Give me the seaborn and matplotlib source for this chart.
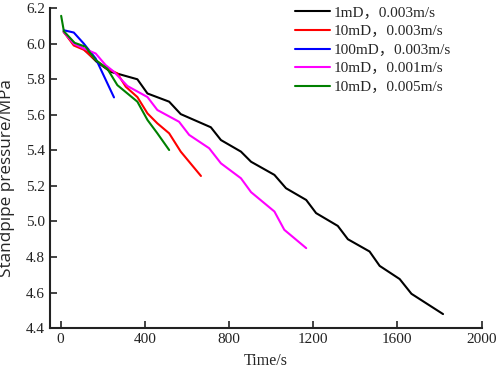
import numpy as np
import pandas as pd
import matplotlib
matplotlib.use("Agg")
import matplotlib.pyplot as plt
import seaborn as sns

labels = ["1mD，0.003m/s", "10mD，0.003m/s", "100mD，0.003m/s", "10mD，0.001m/s", "10mD，0.005m/s"]
colors = ["#000000", "#ff0000", "#0000ff", "#ff00ff", "#008000"]

t_1mD_3 = [15, 63, 111, 170, 238, 278, 365, 413, 516, 571, 714, 762, 857, 905, 1016, 1071, 1167, 1214, 1317, 1365, 1468, 1516, 1611, 1667, 1817]
p_1mD_3 = [6.067, 6.0, 5.97, 5.90, 5.842, 5.829, 5.80, 5.72, 5.674, 5.604, 5.53, 5.458, 5.393, 5.336, 5.262, 5.187, 5.121, 5.047, 4.975, 4.90, 4.831, 4.75, 4.676, 4.593, 4.479]

t_10mD_3 = [15, 63, 111, 175, 222, 270, 310, 365, 413, 460, 516, 571, 667]
p_10mD_3 = [6.067, 5.99, 5.966, 5.90, 5.86, 5.833, 5.758, 5.70, 5.608, 5.552, 5.496, 5.393, 5.256]

t_100mD_3 = [15, 63, 111, 167, 254]
p_100mD_3 = [6.076, 6.063, 6.0, 5.917, 5.698]

t_10mD_1 = [15, 63, 111, 167, 214, 254, 318, 413, 460, 563, 611, 706, 762, 857, 905, 1016, 1063, 1167]
p_10mD_1 = [6.067, 6.0, 5.973, 5.945, 5.88, 5.842, 5.762, 5.70, 5.627, 5.561, 5.487, 5.412, 5.327, 5.243, 5.165, 5.056, 4.953, 4.85]

t_10mD_5 = [3, 16, 67, 119, 167, 222, 270, 318, 365, 413, 460, 516]
p_10mD_5 = [6.157, 6.07, 6.005, 5.983, 5.908, 5.86, 5.767, 5.72, 5.674, 5.571, 5.496, 5.402]

series = [(t_1mD_3, p_1mD_3), (t_10mD_3, p_10mD_3), (t_100mD_3, p_100mD_3),
          (t_10mD_1, p_10mD_1), (t_10mD_5, p_10mD_5)]

frames = []
for lab, (t, p) in zip(labels, series):
    frames.append(pd.DataFrame({"Time": t, "Pressure": p, "Case": lab}))
df = pd.concat(frames, ignore_index=True)

sns.set_style("ticks")
plt.rcParams['font.family'] = ['Liberation Serif', 'Noto Sans CJK SC', 'DejaVu Sans']

fig = plt.figure(figsize=(4.98, 3.72), dpi=100)
ax = fig.add_axes([0.1004, 0.118, 0.967 - 0.1004, 0.978 - 0.118])

sns.lineplot(data=df, x="Time", y="Pressure", hue="Case", hue_order=labels,
             palette=colors, sort=False, estimator=None, linewidth=1.5, ax=ax)

ax.set_xlim(-50, 2000)
ax.set_ylim(4.4, 6.2)
ax.set_xticks([0, 400, 800, 1200, 1600, 2000])
ax.set_yticks(np.arange(4.4, 6.21, 0.2))
ax.yaxis.set_major_formatter(matplotlib.ticker.FormatStrFormatter('%.1f'))
ax.tick_params(direction='in', length=5, width=1.2, labelsize=11, colors='#222222')
for s in ['top', 'right']:
    ax.spines[s].set_visible(False)
for s in ['left', 'bottom']:
    ax.spines[s].set_linewidth(1.5)
    ax.spines[s].set_color('#222222')

ax.set_xlabel("Time/s", fontsize=11.5, labelpad=5)
ax.set_ylabel("Standpipe pressure/MPa", fontsize=12.3, family=['Open Sans', 'DejaVu Sans'])
ax.yaxis.set_label_coords(-0.081, 0.47)

ax.legend(loc='upper left', bbox_to_anchor=(295 / 498, 1 - 6 / 372),
          bbox_transform=fig.transFigure, frameon=False, fontsize=11,
          borderpad=0, borderaxespad=0,
          handlelength=2.3, handletextpad=0.25, labelspacing=0.32)

fig.savefig("out.png", dpi=100)
